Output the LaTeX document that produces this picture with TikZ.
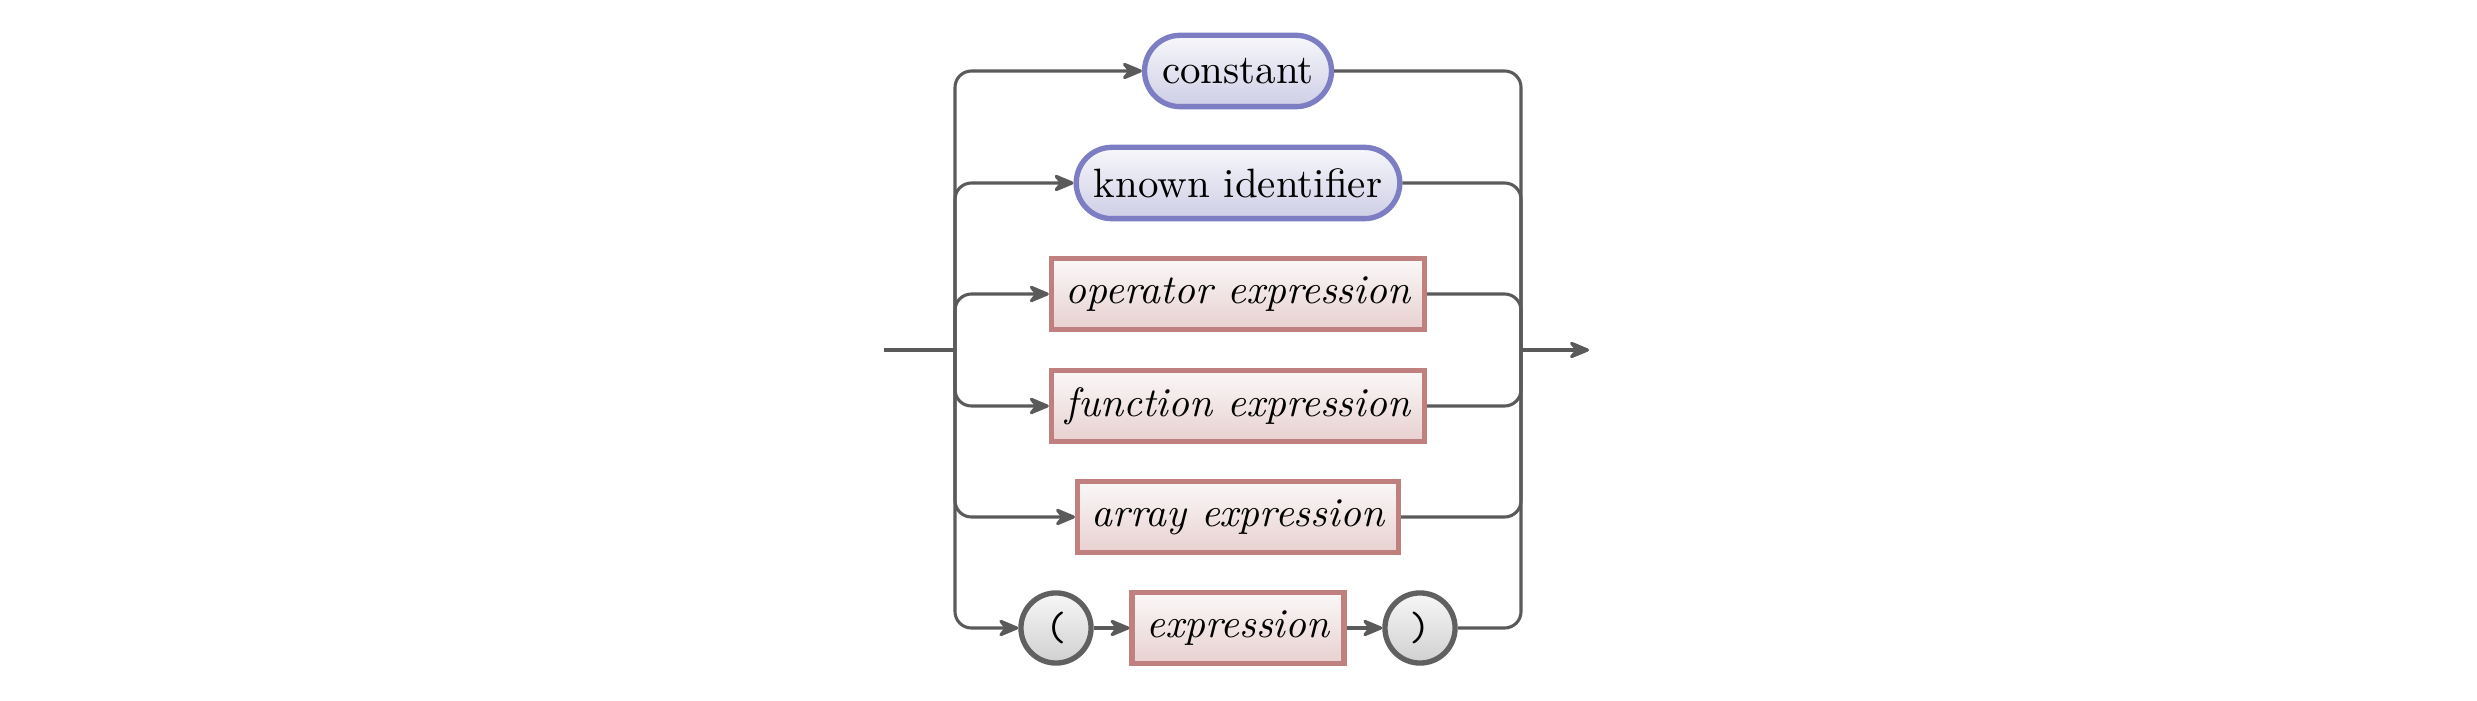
\documentclass[tikz,border=0pt]{standalone}
\usetikzlibrary{arrows.meta}
\definecolor{lineg}{RGB}{90,90,90}
\definecolor{bluebd}{RGB}{125,125,196}
\definecolor{bluetop}{RGB}{247,247,251}
\definecolor{bluebot}{RGB}{206,206,230}
\definecolor{redbd}{RGB}{192,128,128}
\definecolor{redtop}{RGB}{250,248,248}
\definecolor{redbot}{RGB}{232,208,208}
\definecolor{circbd}{RGB}{96,96,96}
\definecolor{circtop}{RGB}{247,247,247}
\definecolor{circbot}{RGB}{208,208,208}
\begin{document}
\begin{tikzpicture}[x=0.2439pt,y=-0.2439pt,
  terminal/.style={draw=bluebd, line width=1.3pt, top color=bluetop, bottom color=bluebot,
    rounded corners=8.7pt, minimum height=17.4pt, inner xsep=4.3pt, inner ysep=0pt},
  nonterminal/.style={draw=redbd, line width=1.3pt, top color=redtop, bottom color=redbot,
    minimum height=17.4pt, inner xsep=3.5pt, inner ysep=0pt, font=\itshape},
  punct/.style={circle, draw=circbd, line width=1.3pt, top color=circtop, bottom color=circbot,
    minimum size=17.1pt, inner sep=0pt, font=\ttfamily},
  conn/.style={draw=lineg, line width=0.75pt, rounded corners=4pt},
  arr/.style={-{Stealth[length=6pt,width=5pt,inset=2pt,round]}}
]
\useasboundingbox (0,0) rectangle (2477,701);
\node[terminal] (c1) at (1238,71) {constant};
\node[terminal] (c2) at (1238,183) {known identifier};
\node[nonterminal] (c3) at (1238,294) {operator expression};
\node[nonterminal] (c4) at (1238,406) {function expression};
\node[nonterminal] (c5) at (1238,517) {array expression};
\node[punct] (lp) at (1056,628) {(};
\node[nonterminal] (ex) at (1238,628) {expression};
\node[punct] (rp) at (1420,628) {)};
\coordinate (start) at (884,350);
\coordinate (L) at (955,350);
\coordinate (R) at (1521,350);
\coordinate (end) at (1589,350);
\draw[conn] (start) -- (L);
\foreach \n in {c1,c2,c3,c4,c5,lp} {
  \draw[conn,arr] (L) |- (\n.west);
}
\foreach \n in {c1,c2,c3,c4,c5,rp} {
  \draw[conn] (\n.east) -| (R);
}
\draw[conn,arr] (lp) -- (ex);
\draw[conn,arr] (ex) -- (rp);
\draw[conn,arr] (R) -- (end);
\end{tikzpicture}
\end{document}
